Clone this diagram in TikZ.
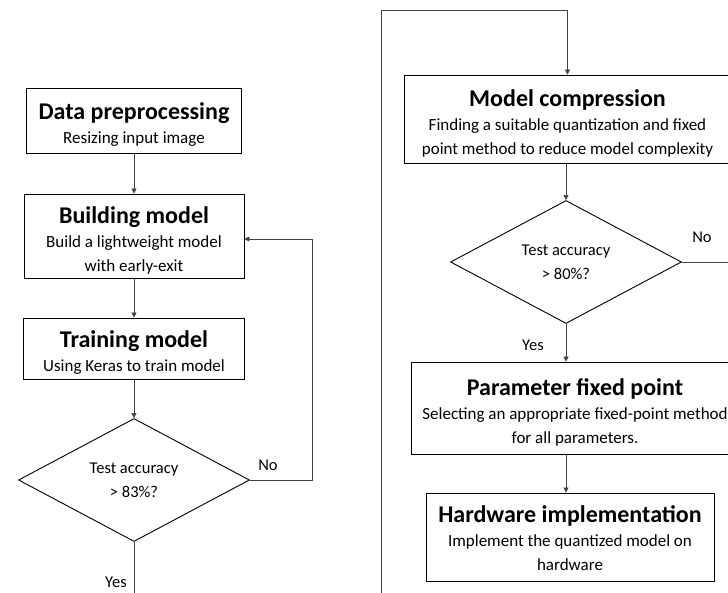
\documentclass[tikz,border=0pt]{standalone}
\usepackage{fontspec}
\setmainfont{Carlito}
\usetikzlibrary{shapes.geometric,arrows.meta,calc}
\newcommand\boxtitle[1]{{\fontsize{24}{28}\selectfont\bfseries\rule{0pt}{25pt}#1}}
\newcommand\boxtitlelow[1]{{\fontsize{24}{28}\selectfont\bfseries\rule{0pt}{20pt}#1}}
\begin{document}
\begin{tikzpicture}[x=1pt,y=-1pt,
  box/.style={draw=black, line width=0.8pt, rectangle, align=center, inner sep=0pt, font=\fontsize{17}{24}\selectfont},
  dec/.style={draw=black, line width=0.9pt, diamond, aspect=1.88, inner sep=0pt, minimum width=231pt, minimum height=123pt, align=center, font=\fontsize{16.5}{24}\selectfont},
  conn/.style={draw=black!75, line width=0.6pt},
  arr/.style={conn, -{Triangle[width=5pt,length=5pt]}},
  lbl/.style={font=\fontsize{16.5}{20}\selectfont, inner sep=0pt},
]
\useasboundingbox (0,0) rectangle (728,592);
\clip (0,0) rectangle (728,592);
% left column
\node[box, minimum width=215pt, minimum height=65pt] (dp) at (134,120.5) {\boxtitle{Data preprocessing}\\ Resizing input image};
\node[box, minimum width=220pt, minimum height=84pt] (bm) at (134,236) {\boxtitle{Building model}\\ Build a lightweight model\\ with early-exit};
\node[box, minimum width=221pt, minimum height=61pt] (tm) at (134,348.5) {\boxtitle{Training model}\\ Using Keras to train model};
\node[dec] (d1) at (134,480) {Test accuracy\\ > 83\%?};
% right column
\node[box, minimum width=327pt, minimum height=88pt] (mc) at (567.5,119) {\boxtitle{Model compression}\\ Finding a suitable quantization and fixed\\ point method to reduce model complexity};
\node[dec] (d2) at (566,262) {Test accuracy\\ > 80\%?};
\node[box, minimum width=328pt, minimum height=92pt] (pf) at (575,408) {\boxtitle{Parameter fixed point}\\ Selecting an appropriate fixed-point method\\ for all parameters.};
\node[box, minimum width=288pt, minimum height=88pt] (hw) at (570,537) {\boxtitlelow{Hardware implementation}\\ Implement the quantized model on\\ hardware};
% labels
\node[lbl] (no1) at (268,465) {No};
\node[lbl] (yes1) at (116,582) {Yes};
\node[lbl] (no2) at (702,237) {No};
\node[lbl] (yes2) at (533,345) {Yes};
% coordinates
\coordinate (noL) at (312,480);
\coordinate (bot1) at (134,600);
\coordinate (loopbot) at (381,600);
\coordinate (looptop) at (381,10);
\coordinate (noR) at (740,262);
% connectors
\draw[arr] (dp.south) -- (bm.north);
\draw[arr] (bm.south) -- (tm.north);
\draw[arr] (tm.south) -- (d1.north);
\draw[arr] (d1.east) -- (noL) |- ($(bm.east)+(0,3)$);
\draw[conn] (d1.south) -- (bot1);
\draw[arr] (loopbot) -- (looptop) -| (mc.north);
\draw[arr] (mc.south -| d2.north) -- (d2.north);
\draw[arr] (d2.south) -- (d2.south |- pf.north);
\draw[arr] (d2.south |- pf.south) -- (d2.south |- hw.north);
\draw[conn] (d2.east) -- (noR);
\end{tikzpicture}
\end{document}
